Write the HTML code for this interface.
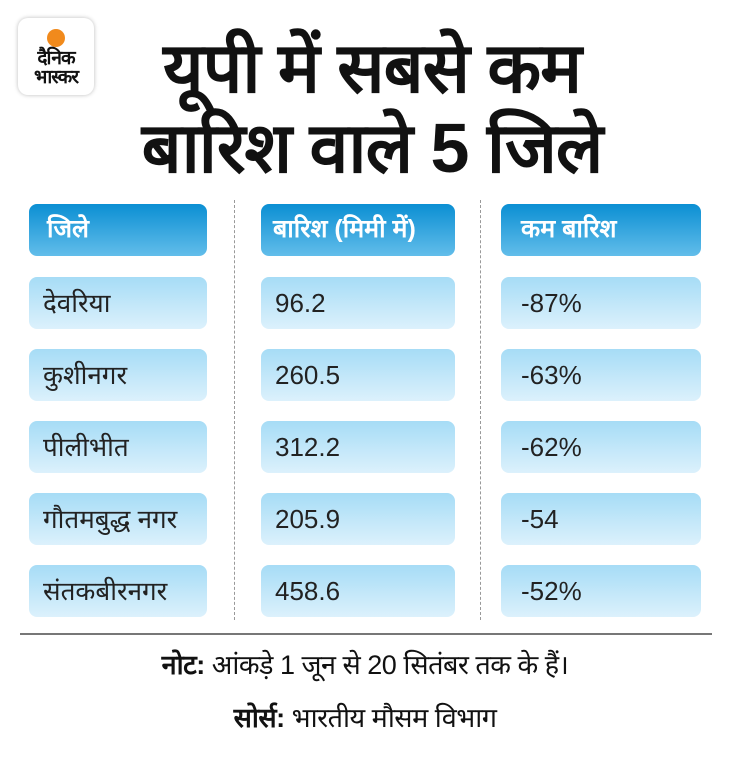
<!DOCTYPE html>
<html><head><meta charset="utf-8"><style>
body{margin:0;width:730px;height:760px;background:#fff;position:relative;overflow:hidden;font-family:"Liberation Sans",sans-serif;}
.a{position:absolute}
.t{position:absolute;left:0;width:730px;text-align:center;font-weight:bold;font-size:70px;color:#111;line-height:1;letter-spacing:-1px}
.h{position:absolute;height:52px;border-radius:8px;background:linear-gradient(#0b8fd3,#62bdea);color:#fff;font-weight:bold;font-size:25px;line-height:50px;box-sizing:border-box;padding-left:18px}
.c{position:absolute;height:52px;border-radius:8px;background:linear-gradient(#a6dcf6,#dcf1fc);color:#222;font-size:26px;line-height:52px;box-sizing:border-box;padding-left:14px}
.d{position:absolute;top:200px;height:420px;border-left:1px dashed #999}
</style></head><body>
<div class="a" style="left:18px;top:18px;width:76px;height:77px;border-radius:10px;background:#fff;box-shadow:0 0 4px #bbb"></div>
<div class="a" style="left:47px;top:29px;width:18px;height:18px;border-radius:50%;background:#f18a1c"></div>
<div class="a" style="left:14px;top:49px;width:84px;text-align:center;font-weight:bold;font-size:19px;line-height:19px;color:#111;letter-spacing:-1px">दैनिक<br>भास्कर</div>
<div class="t" style="top:33px;left:7px">यूपी में सबसे कम</div>
<div class="t" style="top:113px;left:7px">बारिश वाले 5 जिले</div>
<div class="d" style="left:234px"></div><div class="d" style="left:480px"></div>
<div class="h" style="left:29px;top:204px;width:178px">जिले</div>
<div class="h" style="left:261px;top:204px;width:194px;padding-left:12px">बारिश (मिमी में)</div>
<div class="h" style="left:501px;top:204px;width:200px;padding-left:20px">कम बारिश</div>
<div class="c" style="left:29px;top:277px;width:178px">देवरिया</div><div class="c" style="left:261px;top:277px;width:194px">96.2</div><div class="c" style="left:501px;top:277px;width:200px;padding-left:20px">-87%</div>
<div class="c" style="left:29px;top:349px;width:178px">कुशीनगर</div><div class="c" style="left:261px;top:349px;width:194px">260.5</div><div class="c" style="left:501px;top:349px;width:200px;padding-left:20px">-63%</div>
<div class="c" style="left:29px;top:421px;width:178px">पीलीभीत</div><div class="c" style="left:261px;top:421px;width:194px">312.2</div><div class="c" style="left:501px;top:421px;width:200px;padding-left:20px">-62%</div>
<div class="c" style="left:29px;top:493px;width:178px">गौतमबुद्ध नगर</div><div class="c" style="left:261px;top:493px;width:194px">205.9</div><div class="c" style="left:501px;top:493px;width:200px;padding-left:20px">-54</div>
<div class="c" style="left:29px;top:565px;width:178px">संतकबीरनगर</div><div class="c" style="left:261px;top:565px;width:194px">458.6</div><div class="c" style="left:501px;top:565px;width:200px;padding-left:20px">-52%</div>
<div class="a" style="left:20px;top:633px;width:692px;height:2px;background:#777"></div>
<div class="a" style="left:0;top:648px;width:730px;text-align:center;font-size:27px;line-height:34px;color:#111;letter-spacing:-0.5px"><b>नोट:</b> आंकड़े 1 जून से 20 सितंबर तक के हैं।</div>
<div class="a" style="left:0;top:701px;width:730px;text-align:center;font-size:27px;line-height:34px;color:#111;letter-spacing:-0.5px"><b>सोर्स:</b> भारतीय मौसम विभाग</div>
</body></html>
